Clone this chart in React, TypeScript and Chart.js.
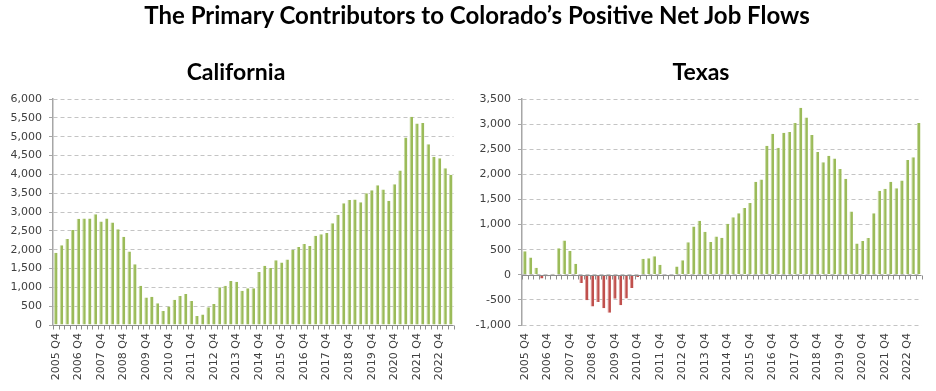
import React, { useEffect, useRef } from "react";
import { Chart, registerables } from "chart.js";

Chart.register(...registerables);

const QUARTERS = [
  "2005 Q4",
  "2006 Q1", "2006 Q2", "2006 Q3", "2006 Q4",
  "2007 Q1", "2007 Q2", "2007 Q3", "2007 Q4",
  "2008 Q1", "2008 Q2", "2008 Q3", "2008 Q4",
  "2009 Q1", "2009 Q2", "2009 Q3", "2009 Q4",
  "2010 Q1", "2010 Q2", "2010 Q3", "2010 Q4",
  "2011 Q1", "2011 Q2", "2011 Q3", "2011 Q4",
  "2012 Q1", "2012 Q2", "2012 Q3", "2012 Q4",
  "2013 Q1", "2013 Q2", "2013 Q3", "2013 Q4",
  "2014 Q1", "2014 Q2", "2014 Q3", "2014 Q4",
  "2015 Q1", "2015 Q2", "2015 Q3", "2015 Q4",
  "2016 Q1", "2016 Q2", "2016 Q3", "2016 Q4",
  "2017 Q1", "2017 Q2", "2017 Q3", "2017 Q4",
  "2018 Q1", "2018 Q2", "2018 Q3", "2018 Q4",
  "2019 Q1", "2019 Q2", "2019 Q3", "2019 Q4",
  "2020 Q1", "2020 Q2", "2020 Q3", "2020 Q4",
  "2021 Q1", "2021 Q2", "2021 Q3", "2021 Q4",
  "2022 Q1", "2022 Q2", "2022 Q3", "2022 Q4",
  "2023 Q1", "2023 Q2",
];

const CALIFORNIA = [
  1920, 2120, 2280, 2520, 2820, 2830, 2830, 2940, 2750, 2830,
  2720, 2540, 2340, 1950, 1610, 1040, 730, 750, 580, 370,
  490, 670, 770, 820, 640, 240, 280, 470, 560, 1000,
  1040, 1170, 1150, 910, 975, 975, 1410, 1570, 1510, 1720,
  1660, 1740, 2000, 2070, 2150, 2100, 2370, 2410, 2440, 2700,
  2930, 3230, 3320, 3330, 3260, 3500, 3580, 3710, 3600, 3300,
  3740, 4100, 4980, 5530, 5350, 5360, 4800, 4470, 4430, 4160,
  3990,
];

const TEXAS = [
  470, 345, 140, -75, -30, 20, 530, 685, 475, 220,
  -165, -505, -630, -540, -665, -755, -475, -605, -470, -265,
  -45, 320, 330, 370, 200, 0, -30, 165, 290, 650,
  960, 1075, 855, 655, 760, 735, 1015, 1145, 1225, 1330,
  1430, 1850, 1895, 2570, 2810, 2530, 2830, 2845, 3020, 3325,
  3130, 2785, 2445, 2240, 2370, 2315, 2105, 1910, 1260, 625,
  675, 730, 1225, 1675, 1715, 1850, 1725, 1875, 2285, 2340,
  3020,
];

const CA_RANGE = { min: 0, max: 6000, step: 500 };
const TX_RANGE = { min: -1000, max: 3500, step: 500 };

const TITLE = "The Primary Contributors to Colorado\u2019s Positive Net Job Flows";
const CA_TITLE = "California";
const TX_TITLE = "Texas";

const GREEN = "#9BBB59";
const GREEN_LIGHT = "#C6D9A0";
const RED = "#C0504D";
const RED_LIGHT = "#DDA09E";

const zeroLinePlugin = {
  id: "zeroLine",
  afterDatasetsDraw(chart: any) {
    const { ctx, chartArea, scales } = chart;
    const y = Math.round(scales.y.getPixelForValue(0)) + 0.5;
    const n = chart.data.labels.length;
    const w = (chartArea.right - chartArea.left) / n;
    ctx.save();
    ctx.setLineDash([]);
    ctx.strokeStyle = "#8C8C8C";
    ctx.lineWidth = 1;
    ctx.beginPath();
    ctx.moveTo(chartArea.left, y);
    ctx.lineTo(chartArea.right, y);
    for (let i = 0; i <= n; i++) {
      const xx = Math.round(chartArea.left + i * w) + 0.5;
      ctx.moveTo(xx, y);
      ctx.lineTo(xx, y + 4);
    }
    ctx.stroke();
    ctx.restore();
  },
};

function makeChart(
  canvas: HTMLCanvasElement,
  values: number[],
  range: { min: number; max: number; step: number },
  yWidth: number,
  padRight: number
) {
  return new Chart(canvas, {
    type: "bar",
    data: {
      labels: QUARTERS,
      datasets: [
        {
          data: values,
          backgroundColor: values.map((v) => (v < 0 ? RED : GREEN)),
          borderColor: values.map((v) => (v < 0 ? RED_LIGHT : GREEN_LIGHT)),
          borderWidth: { left: 1, right: 0, top: 0, bottom: 0 } as any,
          borderSkipped: false,
          barPercentage: 0.62,
          categoryPercentage: 1,
        },
      ],
    },
    options: {
      responsive: false,
      animation: false,
      devicePixelRatio: 1,
      layout: { padding: { top: 99, right: padRight, bottom: 0, left: 0 } },
      plugins: {
        legend: { display: false },
        tooltip: { enabled: false },
        title: { display: false },
      },
      scales: {
        x: {
          offset: true,
          border: { display: false },
          grid: {
            display: true,
            drawOnChartArea: false,
            drawTicks: true,
            tickLength: 4,
            tickColor: "rgba(0,0,0,0)",
          },
          ticks: {
            autoSkip: false,
            maxRotation: 90,
            minRotation: 90,
            padding: 4,
            color: "#404040",
            font: { family: "DejaVu Sans", size: 11 },
            callback: (_v: any, i: number) => (i % 4 === 0 ? QUARTERS[i] : ""),
          },
          afterFit: (s: any) => {
            s.height = 66;
          },
        },
        y: {
          min: range.min,
          max: range.max,
          border: { display: true, color: "#A6A6A6", width: 1.5, dash: [4, 3] },
          grid: {
            color: "#C4C4C4",
            tickBorderDash: [],
            tickLength: 4,
            tickColor: "#A6A6A6",
            lineWidth: 1,
          } as any,
          ticks: {
            stepSize: range.step,
            padding: 7,
            color: "#404040",
            font: { family: "DejaVu Sans", size: 11 },
            callback: (v: any) => Number(v).toLocaleString("en-US"),
          },
          afterFit: (s: any) => {
            s.width = yWidth;
          },
        },
      },
    },
    plugins: [zeroLinePlugin],
  } as any);
}

export default function App() {
  const caRef = useRef<HTMLCanvasElement>(null);
  const txRef = useRef<HTMLCanvasElement>(null);

  useEffect(() => {
    const a = makeChart(caRef.current!, CALIFORNIA, CA_RANGE, 53, 6.5);
    const b = makeChart(txRef.current!, TEXAS, TX_RANGE, 54, 10.5);
    return () => {
      a.destroy();
      b.destroy();
    };
  }, []);

  const titleFont = "Lato, 'Open Sans', sans-serif";

  return (
    <div
      style={{
        position: "absolute",
        left: 0,
        top: 0,
        width: 936,
        height: 391,
        background: "#ffffff",
        overflow: "hidden",
      }}
    >
      <canvas
        ref={caRef}
        width={468}
        height={391}
        style={{ position: "absolute", left: 0, top: 0, width: 468, height: 391 }}
      />
      <canvas
        ref={txRef}
        width={468}
        height={391}
        style={{ position: "absolute", left: 468, top: 0, width: 468, height: 391 }}
      />
      <div
        style={{
          position: "absolute",
          left: 0,
          top: 2.7,
          width: 954,
          textAlign: "center",
          fontFamily: titleFont,
          fontWeight: 700,
          fontSize: 24,
          lineHeight: "24px",
          color: "#000",
          whiteSpace: "nowrap",
        }}
      >
        {TITLE}
      </div>
      <div
        style={{
          position: "absolute",
          left: 136,
          top: 59.6,
          width: 200,
          textAlign: "center",
          fontFamily: titleFont,
          fontWeight: 700,
          fontSize: 23,
          lineHeight: "23px",
          color: "#000",
        }}
      >
        {CA_TITLE}
      </div>
      <div
        style={{
          position: "absolute",
          left: 601,
          top: 59.6,
          width: 200,
          textAlign: "center",
          fontFamily: titleFont,
          fontWeight: 700,
          fontSize: 23,
          lineHeight: "23px",
          color: "#000",
        }}
      >
        {TX_TITLE}
      </div>
    </div>
  );
}
